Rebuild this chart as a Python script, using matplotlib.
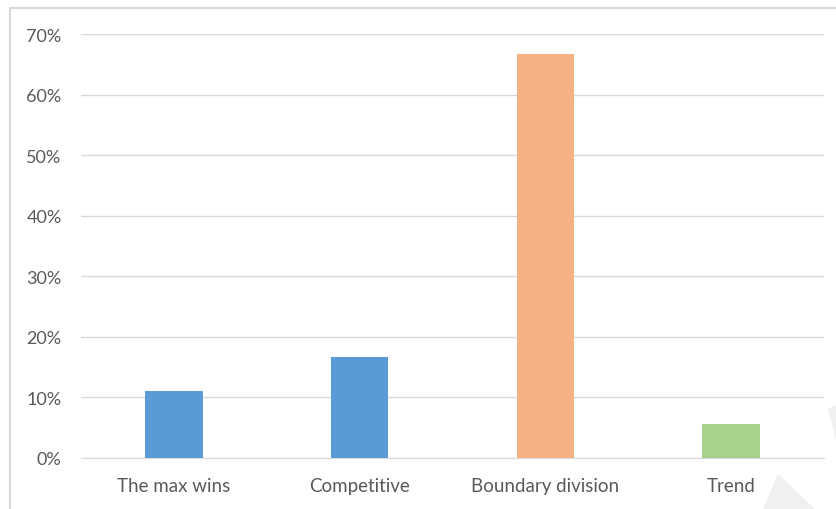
import matplotlib
matplotlib.use("Agg")
from matplotlib import pyplot as plt
from matplotlib.patches import Rectangle, Polygon
from matplotlib.ticker import PercentFormatter

categories = ["The max wins", "Competitive", "Boundary division", "Trend"]
shares = [2 / 18, 3 / 18, 12 / 18, 1 / 18]
bar_colors = ["#5B9BD5", "#5B9BD5", "#F4B183", "#A9D18E"]
y_ticks = [0, 0.1, 0.2, 0.3, 0.4, 0.5, 0.6, 0.7]

plt.rcParams["font.family"] = ["Lato", "DejaVu Sans"]
text_color = "#595959"

fig = plt.figure(figsize=(8.37, 5.10), dpi=100)
ax = fig.add_axes([81 / 837, 1 - 459 / 510, 743 / 837, 424 / 510])

# chart-area border
fig.patches.append(Rectangle((10 / 837, -0.1), 1.1, 1 - 9 / 510 + 0.1,
                             transform=fig.transFigure, fill=False,
                             edgecolor="#D9D9D9", linewidth=1.5))

# faint diagonal mark in the corner
fig.patches.append(Polygon([(1.0, 1 - 405 / 510), (828 / 837, 1 - 410 / 510),
                            (1.0, 1 - 445 / 510)],
                           transform=fig.transFigure, facecolor="#F0F0F0",
                           edgecolor="none", zorder=0))
fig.patches.append(Polygon([(763 / 837, 0.0), (778 / 837, 35 / 510),
                            (815 / 837, 0.0)],
                           transform=fig.transFigure, facecolor="#F0F0F0",
                           edgecolor="none", zorder=0))

x = range(len(categories))
ax.bar(x, shares, width=0.31, color=bar_colors, zorder=3)

ax.set_xlim(-0.5, len(categories) - 0.5)
ax.set_ylim(0, 0.7)
ax.set_yticks(y_ticks)
ax.yaxis.set_major_formatter(PercentFormatter(1.0, decimals=0))
ax.set_xticks(list(x))
ax.set_xticklabels(categories)

ax.grid(axis="y", color="#D9D9D9", linewidth=1, zorder=0)
for side in ["top", "right", "left"]:
    ax.spines[side].set_visible(False)
ax.spines["bottom"].set_color("#D9D9D9")
ax.tick_params(axis="both", length=0, labelsize=13, labelcolor=text_color)
ax.tick_params(axis="x", labelsize=13.5, pad=14)
ax.tick_params(axis="y", pad=14)

fig.savefig("out.png", dpi=100)
